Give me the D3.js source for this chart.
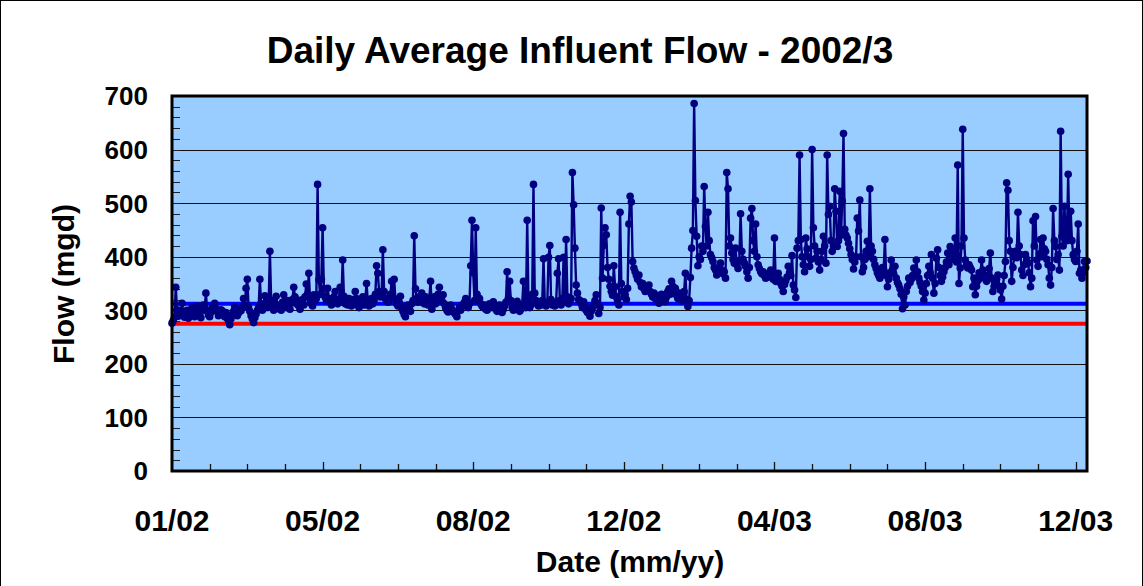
<!DOCTYPE html>
<html>
<head>
<meta charset="utf-8">
<script src="https://cdn.jsdelivr.net/npm/d3@7"></script>
<style>
  body { margin: 0; background: #fff; }
  text { font-family: "Liberation Sans", Arial, sans-serif; font-weight: bold; fill: #000; }
</style>
</head>
<body>
<div id="chart"></div>
<script>

// daily average influent flow (mgd)
var flow2002 = [
  276,281,287,343,301,289,294,298,313,296, 287,291,300,285,290,297,305,293,288,300,
  308,295,290,286,299,310,302,332,300,291, 288,296,305,309,313,303,298,290,295,301,
  299,292,288,296,285,280,273,284,291,298, 307,296,290,295,302,299,305,322,310,341,
  358,305,298,290,284,277,286,293,300,305, 358,312,300,308,327,315,305,312,410,318,
  307,300,312,326,310,303,308,300,315,329, 312,305,318,310,302,315,320,343,325,312,
  319,308,302,315,320,310,325,349,330,369, 320,312,308,329,318,322,535,357,330,358,
  454,340,325,318,341,322,315,310,318,325, 335,320,312,318,343,325,394,326,312,318,
  310,322,315,308,320,312,335,322,310,305, 312,318,325,310,320,350,318,308,315,322,
  312,318,330,383,369,335,325,330,413,335, 322,318,315,320,330,354,325,358,320,312,
  308,315,326,305,298,292,288,300,310,305, 298,312,318,439,340,322,315,325,318,332,
  320,312,325,318,310,322,354,302,318,325, 312,320,330,343,325,318,329,312,305,300,
  297,305,310,302,298,295,292,288,298,305, 300,310,308,315,322,310,305,312,383,468,
  370,318,454,330,318,322,312,308,305,310, 302,300,306,312,305,310,316,308,302,298,
  305,310,300,296,302,308,315,372,322,354, 318,305,300,308,312,317,305,298,302,310,
  354,312,305,468,318,305,310,330,535,332, 318,312,308,315,310,318,396,315,308,312,
  399,421,320,310,315,308,312,369,396,318, 310,322,399,320,432,325,312,318,322,557,
  497,416,347,332,320,318,312,305,316,308, 300,296,302,289,298,305,310,318,329,312,
  294,305,491,360,421,454,441,380,358,345, 335,328,383,344,325,318,310,483,350,335,
  325,329,320,341,461
];

var flow2003 = [
  513,502,391,379,372,365,358,366,352,344, 350,340,335,342,338,347,335,330,325,332,
  322,328,318,313,325,330,322,318,316,325, 335,340,330,354,345,335,341,328,322,332,
  325,318,328,335,369,320,307,318,361,416, 449,686,505,438,383,400,395,420,410,531,
  457,420,483,430,404,398,391,380,375,366, 372,380,388,375,368,372,360,557,527,420,
  435,407,395,388,416,385,378,392,480,410, 395,388,382,372,360,380,472,490,430,410,
  461,400,385,378,372,368,372,365,360,368, 362,370,375,365,358,435,354,362,369,358,
  350,345,335,348,355,362,382,370,365,402, 347,338,324,416,430,590,432,400,385,372,
  435,415,400,382,395,600,454,420,397,410, 390,375,395,410,438,420,388,590,479,494,
  430,410,420,527,485,419,430,522,440,504, 630,451,440,435,425,415,404,395,377,390,
  400,472,448,506,400,372,380,395,410,429, 400,527,420,410,395,385,378,370,365,360,
  372,380,375,432,365,344,358,370,394,375, 368,382,360,352,347,340,330,303,325,310,
  335,345,360,352,358,365,379,370,394,372, 360,352,345,335,319,332,350,365,382,370,
  404,360,332,350,397,413,380,365,354,362, 372,380,390,407,385,419,395,413,400,435,
  390,571,350,379,420,638,435,394,385,379, 385,380,375,344,360,329,345,355,370,360,
  394,375,365,360,354,365,378,407,360,335, 345,350,358,366,345,338,321,345,365,391,
  538,524,430,410,354,380,400,410,398,483, 420,404,375,365,385,404,395,388,370,344,
  360,467,420,475,394,382,405,432,400,435, 415,410,395,385,360,347,380,490,430,419,
  395,404,375,634,438,420,494,450,430,554, 435,485,430,404,395,391,410,461,369,375,
  360,370,391,380,392
];

// horizontal reference levels (mgd)
var refLevels = [275, 312];
var refColors = ["#ff0000", "#0000ff"];

var yTicks = [0, 100, 200, 300, 400, 500, 600, 700];
var startDate = new Date(Date.UTC(2002, 0, 1));
var endDate = new Date(Date.UTC(2003, 11, 31));

var chartTitle = "Daily Average Influent Flow - 2002/3";
var xTitle = "Date (mm/yy)";
var yTitle = "Flow (mgd)";

var svgWidth = 1143, svgHeight = 586;
var margin = { top: 96, right: 56, bottom: 115, left: 172 };
var width = svgWidth - margin.left - margin.right;
var height = svgHeight - margin.top - margin.bottom;

var svg = d3.select("#chart").append("svg")
  .attr("width", svgWidth)
  .attr("height", svgHeight);

// chart area frame
svg.append("rect")
  .attr("x", 0.5).attr("y", 0.5)
  .attr("width", svgWidth - 1).attr("height", svgHeight + 10)
  .attr("fill", "#fff").attr("stroke", "#000").attr("stroke-width", 1);

var data = flow2002.concat(flow2003).map(function(v, i) {
  return { date: d3.utcDay.offset(startDate, i), flow: v };
});

var xScale = d3.scaleUtc().domain([startDate, endDate]).range([0, width]);
var yScale = d3.scaleLinear().domain([0, 700]).range([height, 0]);

var g = svg.append("g").attr("transform", `translate(${margin.left}, ${margin.top})`);

g.append("rect")
  .attr("width", width).attr("height", height)
  .attr("fill", "#99ccff");

// gridlines
g.append("g").selectAll("line")
  .data(yTicks.slice(1, -1))
  .enter().append("line")
  .attr("x1", 0).attr("x2", width)
  .attr("y1", d => Math.round(yScale(d)) + 0.5).attr("y2", d => Math.round(yScale(d)) + 0.5)
  .attr("stroke", "#111").attr("stroke-width", 1);

// y minor ticks (inside)
var yMinor = d3.range(20, 700, 20);
g.append("g").selectAll("line")
  .data(yMinor)
  .enter().append("line")
  .attr("x1", 0).attr("x2", 8)
  .attr("y1", d => Math.round(yScale(d)) + 0.5).attr("y2", d => Math.round(yScale(d)) + 0.5)
  .attr("stroke", "#222").attr("stroke-width", 1);

// x ticks every 30 days, labels every 120 days
var xTickDays = d3.range(30, 730, 30);
g.append("g").selectAll("line")
  .data(xTickDays)
  .enter().append("line")
  .attr("x1", d => Math.round(xScale(d3.utcDay.offset(startDate, d))) + 0.5)
  .attr("x2", d => Math.round(xScale(d3.utcDay.offset(startDate, d))) + 0.5)
  .attr("y1", height)
  .attr("y2", d => d % 120 === 0 ? height - 9 : height - 7)
  .attr("stroke", "#111").attr("stroke-width", 1.3);

// reference lines
g.append("g").selectAll("line")
  .data(refLevels)
  .enter().append("line")
  .attr("x1", 0).attr("x2", width)
  .attr("y1", d => yScale(d)).attr("y2", d => yScale(d))
  .attr("stroke", (d, i) => refColors[i]).attr("stroke-width", 4);

// series
var line = d3.line().x(d => xScale(d.date)).y(d => yScale(d.flow));
g.append("path")
  .datum(data)
  .attr("d", line)
  .attr("fill", "none")
  .attr("stroke", "#000080")
  .attr("stroke-width", 2.4)
  .attr("stroke-linejoin", "round");

g.append("g").selectAll("circle")
  .data(data)
  .enter().append("circle")
  .attr("cx", d => xScale(d.date))
  .attr("cy", d => yScale(d.flow))
  .attr("r", 3.8)
  .attr("fill", "#000080");

// plot border
g.append("rect")
  .attr("width", width).attr("height", height)
  .attr("fill", "none").attr("stroke", "#000").attr("stroke-width", 3);

// y tick labels
g.append("g").selectAll("text")
  .data(yTicks)
  .enter().append("text")
  .attr("x", -24)
  .attr("y", d => yScale(d))
  .attr("dy", "0.36em")
  .attr("text-anchor", "end")
  .style("font-size", "26px")
  .text(d => d);

// x tick labels
var fmt = d3.utcFormat("%m/%y");
g.append("g").selectAll("text")
  .data(d3.range(0, 730, 120))
  .enter().append("text")
  .attr("x", d => xScale(d3.utcDay.offset(startDate, d)))
  .attr("y", height + 60)
  .attr("text-anchor", "middle")
  .style("font-size", "30px")
  .text(d => fmt(d3.utcDay.offset(startDate, d)));

// titles
svg.append("text")
  .attr("x", 580).attr("y", 63)
  .attr("text-anchor", "middle")
  .style("font-size", "37px")
  .text(chartTitle);

svg.append("text")
  .attr("x", 630).attr("y", 572)
  .attr("text-anchor", "middle")
  .style("font-size", "30px")
  .text(xTitle);

svg.append("text")
  .attr("transform", "translate(74, 284) rotate(-90)")
  .attr("text-anchor", "middle")
  .style("font-size", "30px")
  .text(yTitle);

</script>
</body>
</html>
